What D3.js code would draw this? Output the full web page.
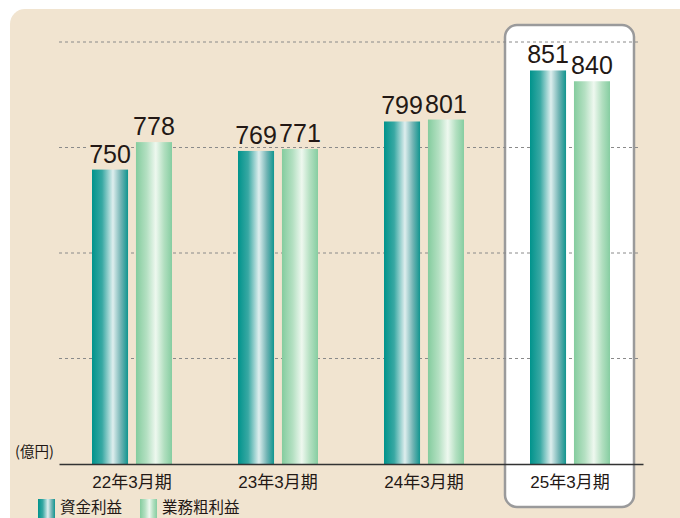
<!DOCTYPE html>
<html>
<head>
<meta charset="utf-8">
<script src="https://cdn.jsdelivr.net/npm/d3@7"></script>
<style>
  html, body { margin: 0; padding: 0; background: #fff; }
  svg { display: block; }
</style>
</head>
<body>
<div id="chart"></div>
<script>
const categories = ["22年3月期", "23年3月期", "24年3月期", "25年3月期"]
const seriesNames = ["資金利益", "業務粗利益"]
const shikinRieki = [750, 769, 799, 851]
const gyomuArari = [778, 771, 801, 840]
const unitLabel = "(億円)"
const highlighted = "25年3月期"

const width = 680
const height = 518
const numFont = "'Liberation Sans', 'Noto Sans CJK JP', sans-serif"

const rows = categories.map((c, i) => ({
    cat: c,
    values: [
        { key: seriesNames[0], value: shikinRieki[i] },
        { key: seriesNames[1], value: gyomuArari[i] }
    ]
}))

const svg = d3.select("#chart").append("svg")
    .attr("width", width)
    .attr("height", height)

const defs = svg.append("defs")

// bar gradients: darker edges, bright streak a little right of centre
const gradStops = {
    teal: [["0%", "#00938c"], ["28%", "#38a8a3"], ["58%", "#deeeee"], ["80%", "#72b4b4"], ["100%", "#11958f"]],
    green: [["0%", "#84cc9e"], ["30%", "#b4e0c2"], ["55%", "#eef8ef"], ["78%", "#b2dfc0"], ["100%", "#86cda1"]]
}
Object.entries(gradStops).forEach(([id, stops]) => {
    defs.append("linearGradient")
        .attr("id", "grad-" + id)
        .attr("x1", "0%").attr("x2", "100%")
        .attr("y1", "0%").attr("y2", "0%")
        .selectAll("stop")
        .data(stops)
        .enter().append("stop")
        .attr("offset", d => d[0])
        .attr("stop-color", d => d[1])
})
const fillFor = d3.scaleOrdinal().domain(seriesNames).range(["url(#grad-teal)", "url(#grad-green)"])

// beige panel
svg.append("rect")
    .attr("x", 10).attr("y", 9)
    .attr("width", width + 20).attr("height", height + 20)
    .attr("rx", 15)
    .attr("fill", "#f1e4d0")

const x0 = d3.scaleBand()
    .domain(categories)
    .range([59, 643])
    .padding(0)

const x1 = d3.scaleBand()
    .domain(seriesNames)
    .range([x0.bandwidth() / 2 - 40, x0.bandwidth() / 2 + 40])
    .paddingInner(0.18)

const y = d3.scaleLinear()
    .domain([450, 880])
    .range([464, 42])

// white box round the latest year
svg.append("rect")
    .attr("x", x0(highlighted) + 8)
    .attr("y", 25)
    .attr("width", x0.bandwidth() - 17)
    .attr("height", 482)
    .attr("rx", 12)
    .attr("fill", "#fff")
    .attr("stroke", "#9a9a9b")
    .attr("stroke-width", 2.5)

// dashed guide lines (evenly split, not round values)
const gridVals = d3.range(1, 5).map(k => y.domain()[0] + k * (y.domain()[1] - y.domain()[0]) / 4)
svg.selectAll(".grid")
    .data(gridVals)
    .enter().append("line")
    .attr("class", "grid")
    .attr("x1", 59).attr("x2", 640)
    .attr("y1", d => y(d)).attr("y2", d => y(d))
    .attr("stroke", "#8a8a8a")
    .attr("stroke-width", 1)
    .attr("stroke-dasharray", "3,3")

const group = svg.selectAll(".group")
    .data(rows)
    .enter().append("g")
    .attr("class", "group")
    .attr("transform", d => "translate(" + x0(d.cat) + ",0)")

group.selectAll("rect")
    .data(d => d.values)
    .enter().append("rect")
    .attr("x", d => x1(d.key))
    .attr("y", d => y(d.value))
    .attr("width", x1.bandwidth())
    .attr("height", d => y(450) - y(d.value))
    .attr("fill", d => fillFor(d.key))

group.selectAll("text.val")
    .data(d => d.values.map(v => Object.assign({ cat: d.cat }, v)))
    .enter().append("text")
    .attr("class", "val")
    .attr("x", d => x1(d.key) + x1.bandwidth() / 2)
    .attr("y", d => y(d.value) - 7)
    .attr("text-anchor", "middle")
    .attr("font-family", numFont)
    .attr("font-size", 25)
    .attr("fill", "#231815")
    .attr("stroke", d => d.cat === highlighted ? "#fff" : "#f1e4d0")
    .attr("stroke-width", 4)
    .style("paint-order", "stroke")
    .text(d => d.value)

// baseline + category labels
const xAxis = svg.append("g")
    .attr("transform", "translate(0,464)")
    .call(d3.axisBottom(x0).tickSize(0).tickPadding(8))
xAxis.select(".domain")
    .attr("stroke", "#333")
    .attr("stroke-width", 1.5)
xAxis.selectAll("text")
    .attr("font-family", numFont)
    .attr("font-size", 17)
    .attr("fill", "#231815")
    .attr("dy", "0.95em")

svg.append("text")
    .attr("x", 15).attr("y", 457)
    .attr("font-family", "'Noto Sans CJK JP', sans-serif")
    .attr("font-size", 14.5)
    .attr("fill", "#231815")
    .text(unitLabel)

// legend
const legend = svg.selectAll(".legend")
    .data(seriesNames)
    .enter().append("g")
    .attr("class", "legend")
    .attr("transform", (d, i) => "translate(" + (38 + i * 102) + ",499)")

legend.append("rect")
    .attr("width", 17).attr("height", 19)
    .attr("fill", d => fillFor(d))

legend.append("text")
    .attr("x", 22).attr("y", 14)
    .attr("font-family", "'Noto Sans CJK JP', sans-serif")
    .attr("font-size", 15.5)
    .attr("fill", "#231815")
    .text(d => d)
</script>
</body>
</html>
